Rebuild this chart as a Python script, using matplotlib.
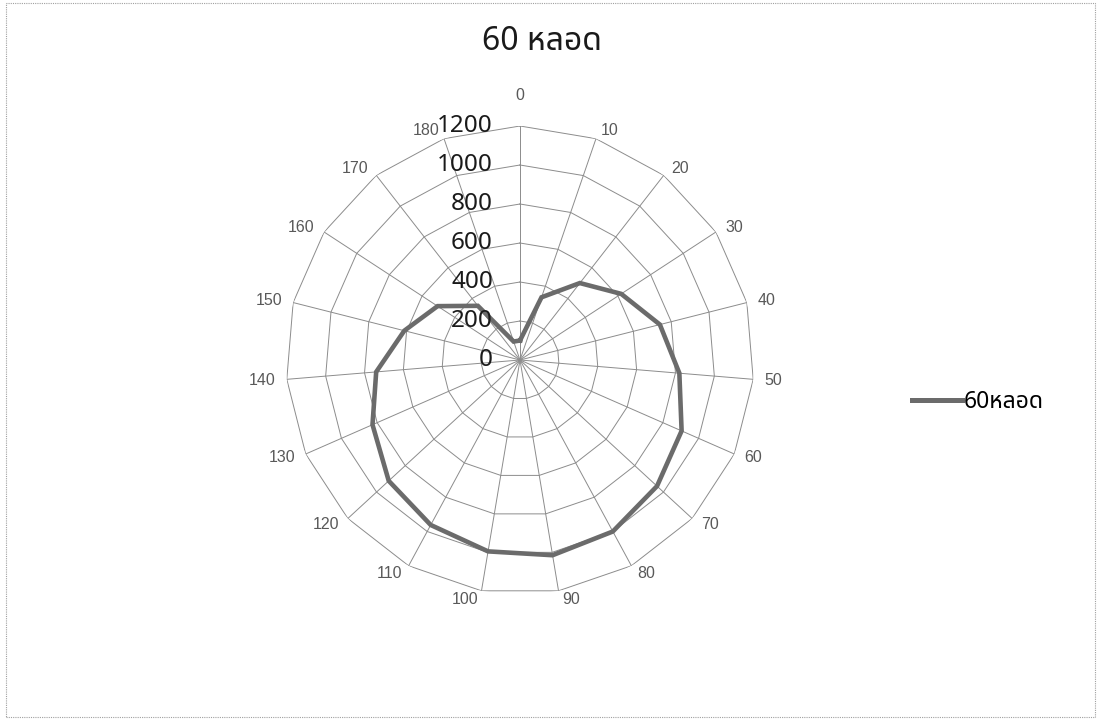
import numpy as np
import matplotlib
matplotlib.use("Agg")
import matplotlib.pyplot as plt
from matplotlib import font_manager as fm
from matplotlib.ft2font import FT2Font
from matplotlib.lines import Line2D
from matplotlib.patches import Rectangle
from matplotlib import transforms

# ======================== DATA ============================
angles_deg = [0, 10, 20, 30, 40, 50, 60, 70, 80, 90,
              100, 110, 120, 130, 140, 150, 160, 170, 180]
lux = [100, 340, 500, 620, 740, 820, 905, 955, 1000, 1015,
       995, 962, 915, 826, 740, 612, 505, 352, 100]
r_ticks = [0, 200, 400, 600, 800, 1000, 1200]
title = "60 หลอด"
series_name = "60หลอด"


def find_thai_font():
    # look for any installed font that has Thai glyphs
    preferred = ["Noto Sans Thai", "Noto Sans Thai UI", "Loma", "Garuda",
                 "Norasi", "Kinnari", "Sawasdee", "Umpush", "Waree"]
    found = {}
    for f in fm.fontManager.ttflist:
        try:
            if 0x0E2B in FT2Font(f.fname).get_charmap():
                found.setdefault(f.name, f.fname)
        except Exception:
            pass
    for p in preferred:
        if p in found:
            return p
    return next(iter(found), None)


thai = find_thai_font()
thai_family = ["Noto Sans"] + ([thai] if thai else []) + ["DejaVu Sans"]

LINE_COLOR = "#6b6b6b"
GRID_COLOR = "#8c8c8c"
LABEL_COLOR = "#595959"

# ======================== FIGURE ============================
fig = plt.figure(figsize=(10.98, 7.24), dpi=100)
fig.patch.set_facecolor("white")

# chart frame
fig.add_artist(Rectangle((6 / 1098, 1 - 717 / 724), 1089 / 1098, 714 / 724,
                         transform=fig.transFigure, fill=False,
                         edgecolor="#a0a0a0", lw=0.8, linestyle=(0, (1, 1))))

cx, cy, R = 520, 360, 234
ax = fig.add_axes([(cx - R) / 1098, 1 - (cy + R) / 724, 2 * R / 1098, 2 * R / 724],
                  projection="polar")
ax.set_theta_zero_location("N")
ax.set_theta_direction(-1)
ax.set_ylim(0, 1200)
ax.grid(False)
ax.spines["polar"].set_visible(False)
ax.patch.set_alpha(0)

n = len(angles_deg)
theta = np.arange(n) * 2 * np.pi / n
theta_closed = np.append(theta, theta[0])

# polygon rings
for rv in r_ticks[1:]:
    ax.plot(theta_closed, [rv] * (n + 1), color=GRID_COLOR, lw=0.7, zorder=1)
# spokes
for t in theta:
    ax.plot([t, t], [0, 1200], color=GRID_COLOR, lw=0.7, zorder=1)

# data series
vals_closed = np.append(lux, lux[0])
ax.plot(theta_closed, vals_closed, color=LINE_COLOR, lw=3.3, zorder=3,
        solid_joinstyle="miter")

# category labels, Excel style: left/right aligned next to the outer ring
ax.set_xticks([])
ax.set_yticks([])
for a, t in zip(angles_deg, theta):
    s, c = np.sin(t), np.cos(t)
    d = 31 if a == 0 else 9
    if abs(s) < 0.05:
        ha, dx = "center", 0
    elif s > 0:
        ha, dx = "left", d * s + 2
    else:
        ha, dx = "right", d * s - 2
    ax.annotate(str(a), xy=(t, 1200), xytext=(dx, d * c),
                textcoords="offset pixels", ha=ha, va="center",
                color=LABEL_COLOR, fontsize=11.5, family="Liberation Sans",
                annotation_clip=False)

# radial value labels left of the vertical axis
lab_tr = transforms.offset_copy(ax.transData, fig=fig, x=-27, y=0, units="dots")
for rv in r_ticks:
    ax.text(0, rv, str(rv), transform=lab_tr, ha="right", va="center",
            fontsize=17.5, color="#1a1a1a", family=thai_family, zorder=4)

fig.text(542 / 1098, 1 - 42 / 724, title, ha="center", va="center",
         fontsize=23, color="#1a1a1a", family=thai_family)

handle = Line2D([], [], color=LINE_COLOR, lw=3.6)
fig.legend([handle], [series_name], loc="center left",
           bbox_to_anchor=(912 / 1098, 1 - 402 / 724), frameon=False,
           handlelength=2.2, handletextpad=0.05, borderpad=0, borderaxespad=0,
           prop={"family": thai_family, "size": 16.5})

fig.savefig("out.png", dpi=100, facecolor="white")
